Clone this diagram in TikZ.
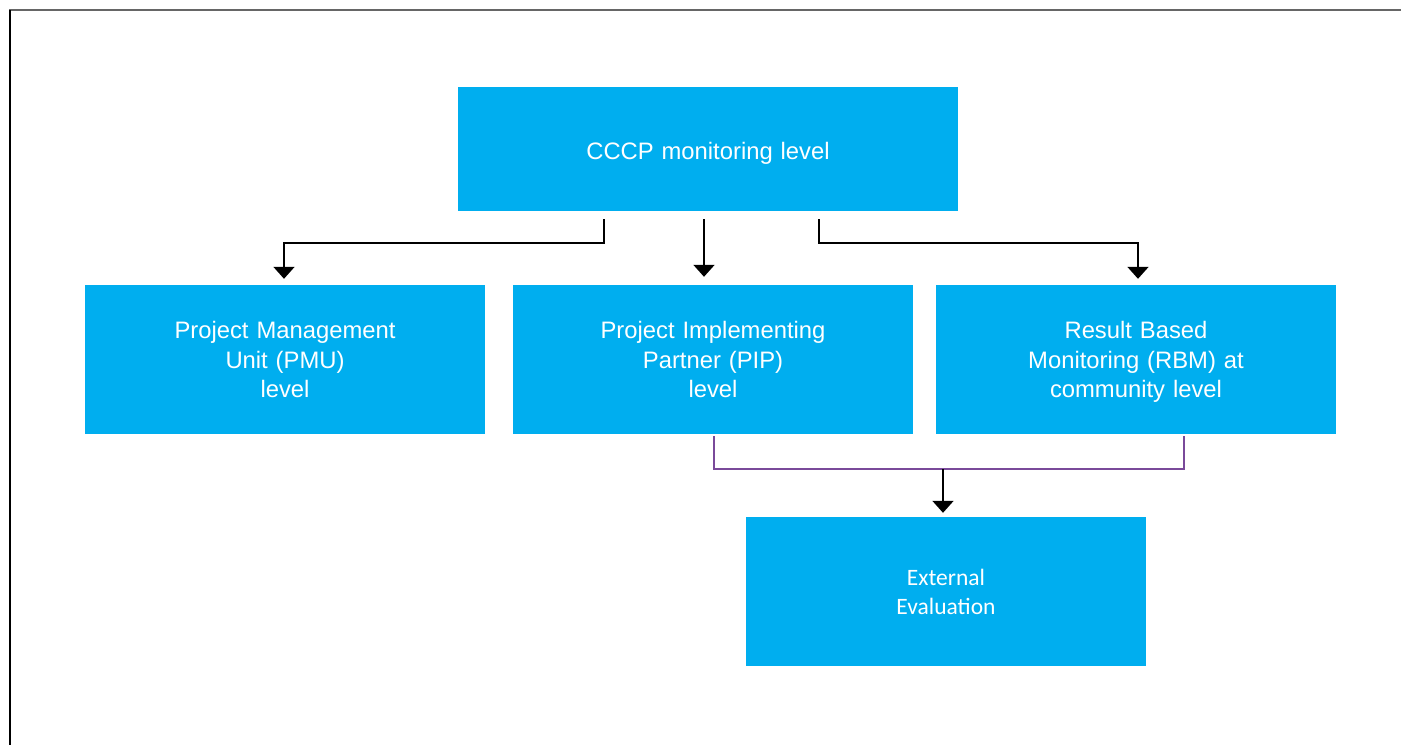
\documentclass[tikz,border=0pt]{standalone}
\usepackage{fontspec}
\setmainfont{Liberation Sans}
\newfontfamily\calib{Carlito}
\usetikzlibrary{arrows.meta,calc}
\definecolor{boxblue}{HTML}{00AEEF}
\definecolor{linkpurple}{HTML}{7A4A9A}
\tikzset{
  levelbox/.style={fill=boxblue, draw=none, minimum width=400pt, text width=390pt, align=center, text=white, font=\fontsize{23.8}{29.5}\selectfont, inner sep=0pt},
  arr/.style={line width=1.8pt, -{Triangle[width=21pt,length=12pt]}},
  plink/.style={line width=1.8pt, draw=linkpurple}
}
\begin{document}
\begin{tikzpicture}[x=1pt,y=-1pt]
\useasboundingbox (0,0) rectangle (1401,745);
% frame
\draw[line width=2pt, draw=gray!80!black] (9,10) -- (1401,10);
\draw[line width=2pt] (9.5,10) -- (9.5,745);
% boxes
\node[levelbox, minimum width=500pt, text width=480pt, minimum height=124pt, text depth=0pt] (cccp) at (708,149) {\raisebox{-2pt}[\height][\depth]{CCCP monitoring level}};
\node[levelbox, minimum height=149pt] (pmu) at (285,359.5) {Project Management\\Unit (PMU)\\level};
\node[levelbox, minimum height=149pt] (pip) at (713,359.5) {Project Implementing\\Partner (PIP)\\level};
\node[levelbox, minimum height=149pt] (rbm) at (1136,359.5) {Result Based\\Monitoring (RBM) at\\\raisebox{0pt}[\height][0pt]{community level}};
\node[levelbox, minimum height=149pt, font=\calib\fontsize{23.5}{29}\selectfont] (ext) at (946,591.5) {External\\Evaluation};
% connectors
\coordinate (jl) at (604,243);
\coordinate (jr) at (819,243);
\draw[arr] ($(cccp.south)+(-104,8)$) -- (jl) -| ([yshift=6pt]pmu.north -| 284,0);
\draw[arr] ($(cccp.south)+(-4,8)$) -- ([yshift=8pt]pip.north -| 704,0);
\draw[arr] ($(cccp.south)+(111,8)$) -- (jr) -| ([yshift=6pt]rbm.north -| 1138,0);
\coordinate (jm) at (943,469);
\draw[plink] ($(pip.south)+(1,2)$) |- (jm) -| ($(rbm.south)+(48,2)$);
\draw[arr] (jm) -- ([yshift=4pt]ext.north -| 943,0);
\end{tikzpicture}
\end{document}
